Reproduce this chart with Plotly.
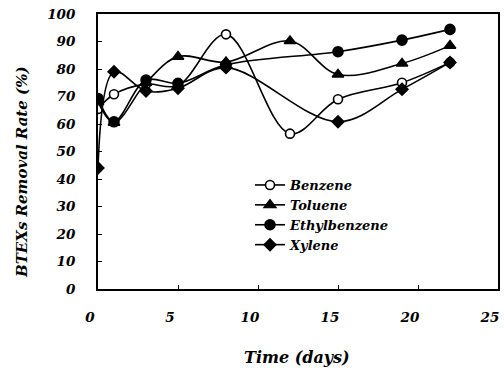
import plotly.graph_objects as go

days_b = [0, 1, 3, 5, 8, 12, 15, 19, 22]
benzene = [65.5, 70.8, 74.5, 74, 92.6, 56.5, 69, 75, 82.4]
days_t = [0, 1, 3, 5, 8, 12, 15, 19, 22]
toluene = [68, 60.5, 75, 84.5, 82.5, 90.2, 78, 82, 88.5]
days_e = [0, 1, 3, 5, 8, 15, 19, 22]
ethylbenzene = [69.3, 60.8, 76, 74.8, 81.5, 86.3, 90.5, 94.4]
days_x = [0, 1, 3, 5, 8, 15, 19, 22]
xylene = [44, 79, 72, 73, 80.5, 60.8, 72.6, 82.4]

xticks = [0, 5, 10, 15, 20, 25]
yticks = list(range(0, 101, 10))

FONT = "DejaVu Serif"

def tr(x, y, name, symbol, size, fill):
    return go.Scatter(
        x=x, y=y, name=name, mode="lines+markers",
        line=dict(color="black", width=1.6, shape="spline", smoothing=1.0),
        marker=dict(symbol=symbol, size=size, color=fill,
                    line=dict(color="black", width=1.6)),
    )

fig = go.Figure()
fig.add_trace(tr(days_b, benzene, "Benzene", "circle", 9, "white"))
fig.add_trace(tr(days_t, toluene, "Toluene", "triangle-up", 10, "black"))
fig.add_trace(tr(days_e, ethylbenzene, "Ethylbenzene", "circle", 10, "black"))
fig.add_trace(tr(days_x, xylene, "Xylene", "diamond", 9, "black"))

tickfont = dict(family=FONT, size=13.5, color="black", weight="bold", style="italic")

fig.update_layout(
    width=504, height=372,
    margin=dict(l=98, r=6, t=14, b=83, autoexpand=False),
    paper_bgcolor="white", plot_bgcolor="white",
    showlegend=True,
    legend=dict(x=(250 - 98) / 400, y=(289 - 170) / 275, xanchor="left", yanchor="top",
                bgcolor="rgba(0,0,0,0)", borderwidth=0,
                font=dict(family=FONT, size=13, color="black", weight="bold", style="italic"),
                itemwidth=30, tracegroupgap=0),
    xaxis=dict(range=[0, 25], tickvals=xticks, ticktext=[str(v) for v in xticks],
               showgrid=False, zeroline=False, showline=True, linecolor="black",
               linewidth=1.8, mirror=True, ticks="inside", ticklen=4, tickwidth=1.2,
               tickcolor="black", tickfont=tickfont, ticklabelstandoff=15,
               ticklabelshift=-8,
               ticklabeloverflow="allow", automargin=False),
    yaxis=dict(range=[0, 100], tickvals=yticks, ticktext=[str(v) for v in yticks],
               showgrid=False, zeroline=False, showline=True, linecolor="black",
               linewidth=1.8, mirror=True, ticks="inside", ticklen=4, tickwidth=1.2,
               tickcolor="black", tickfont=tickfont, ticklabelstandoff=18,
               ticklabeloverflow="allow", automargin=False),
    annotations=[
        dict(text="Time (days)", xref="paper", yref="paper", x=(297 - 98) / 400, y=-(357 - 289) / 275,
             xanchor="center", yanchor="middle", showarrow=False,
             font=dict(family=FONT, size=16, color="black", weight="bold", style="italic")),
        dict(text="BTEXs Removal Rate (%)", xref="paper", yref="paper",
             x=(22 - 98) / 400, y=(289 - 172) / 275, textangle=-90,
             xanchor="center", yanchor="middle", showarrow=False,
             font=dict(family=FONT, size=15, color="black", weight="bold", style="italic")),
    ],
)

fig.write_html("out.html")
